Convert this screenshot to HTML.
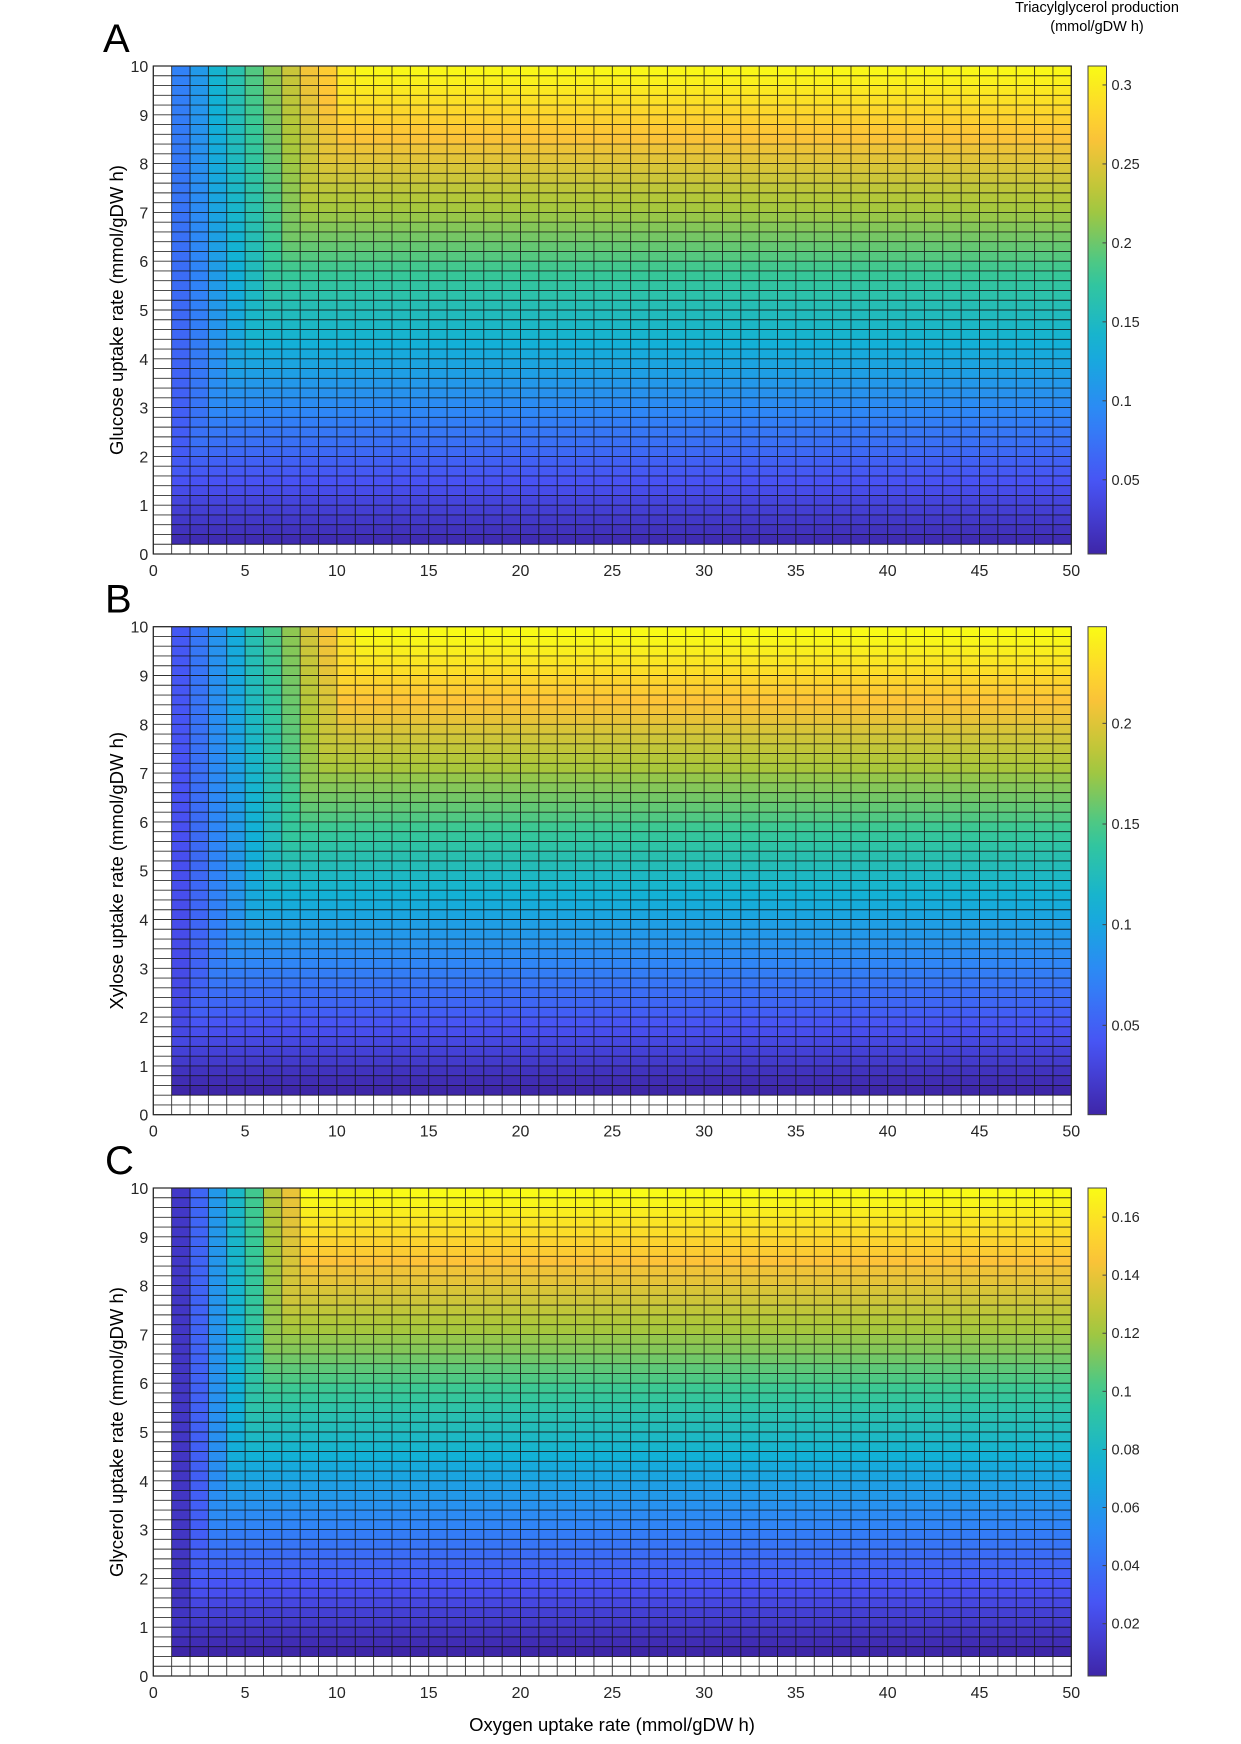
<!DOCTYPE html>
<html><head><meta charset="utf-8">
<style>
html,body{margin:0;padding:0;background:#fff;}
svg{display:block;font-family:"Liberation Sans","DejaVu Sans",sans-serif;}
</style></head>
<body>
<svg id="fig" width="1241" height="1744" viewBox="0 0 1241 1744"></svg>
<script>
// ---- data ----
const oxygenTicks = [0,5,10,15,20,25,30,35,40,45,50];
const uptakeTicks = [0,1,2,3,4,5,6,7,8,9,10];
// row values (glucose/xylose/glycerol rows of 0.2 each), null = no data
const rowA = [null,0.009,0.016,0.022,0.028,0.034,0.041,0.047,0.053,0.059,0.066,0.072,0.078,0.084,0.091,0.097,0.103,0.109,0.116,0.122,0.128,0.134,0.141,0.147,0.153,0.159,0.166,0.172,0.178,0.184,0.191,0.197,0.203,0.209,0.216,0.222,0.228,0.234,0.241,0.247,0.253,0.259,0.266,0.272,0.278,0.284,0.291,0.297,0.303,0.309];
const rowB = [null,null,0.006,0.011,0.016,0.022,0.027,0.032,0.037,0.042,0.048,0.053,0.058,0.063,0.068,0.074,0.079,0.084,0.089,0.094,0.100,0.105,0.110,0.115,0.120,0.126,0.131,0.136,0.141,0.146,0.152,0.157,0.162,0.167,0.172,0.178,0.183,0.188,0.193,0.198,0.204,0.209,0.214,0.219,0.224,0.230,0.235,0.240,0.245,0.250];
const rowC = [null,null,0.002,0.006,0.009,0.013,0.016,0.020,0.024,0.027,0.031,0.034,0.038,0.042,0.045,0.049,0.052,0.056,0.060,0.063,0.067,0.070,0.074,0.078,0.081,0.085,0.088,0.092,0.096,0.099,0.103,0.106,0.110,0.114,0.117,0.121,0.124,0.128,0.132,0.135,0.139,0.142,0.146,0.150,0.153,0.157,0.160,0.164,0.168,0.171];
// oxygen-limited caps per column (at top / at zero uptake)
const capTopA = [null,0.087,0.11,0.14,0.165,0.19,0.215,0.24,0.262,0.275,0.3];
const capBotA = [null,0.045,0.06,0.075,0.09,0.1,0.12,0.13,0.14,0.15,0.16];
const capTopB = [null,0.045,0.065,0.085,0.105,0.13,0.15,0.17,0.195,0.21,0.235];
const capBotB = [null,0.03,0.045,0.06,0.07,0.08,0.09,0.1,0.11,0.12,0.13];
const capTopC = [null,0.012,0.035,0.06,0.08,0.1,0.125,0.14];
const capBotC = [null,0.01,0.03,0.05,0.065,0.08,0.095,0.105];
const cbTicksA = [0.05,0.1,0.15,0.2,0.25,0.3];
const cbTicksB = [0.05,0.1,0.15,0.2];
const cbTicksC = [0.02,0.04,0.06,0.08,0.1,0.12,0.14,0.16];

const NS="http://www.w3.org/2000/svg";
const svg=document.getElementById('fig');
function mk(tag,attrs,parent){const e=document.createElementNS(NS,tag);for(const k in attrs)e.setAttribute(k,attrs[k]);(parent||svg).appendChild(e);return e;}
const stops=[[62,38,168],[72,82,244],[46,135,247],[18,177,214],[55,200,151],[171,199,57],[254,195,56],[249,251,21]];
function parula(t){t=Math.max(0,Math.min(1,t));const s=t*(stops.length-1);const i=Math.min(stops.length-2,Math.floor(s));const f=s-i;
 const c=stops[i].map((v,k)=>Math.round(v+(stops[i+1][k]-v)*f));return `rgb(${c[0]},${c[1]},${c[2]})`;}

const L=153.3,R=1071.3,W=R-L,H=488;
const panels=[
 {id:'a',letter:'A',top:66,rows:rowA,capT:capTopA,capB:capBotA,cmin:0.003,cmax:0.312,ticks:cbTicksA,ylab:'Glucose uptake rate (mmol/gDW h)'},
 {id:'b',letter:'B',top:626.7,rows:rowB,capT:capTopB,capB:capBotB,cmin:0.0056,cmax:0.248,ticks:cbTicksB,ylab:'Xylose uptake rate (mmol/gDW h)'},
 {id:'c',letter:'C',top:1188,rows:rowC,capT:capTopC,capB:capBotC,cmin:0.002,cmax:0.170,ticks:cbTicksC,ylab:'Glycerol uptake rate (mmol/gDW h)'}
];
panels.forEach(p=>{
 const T=p.top,B=T+H;
 const xs=v=>L+v/50*W, ys=v=>B-v/10*H;
 const g=mk('g',{});
 
 
 const lt=mk('text',{x:p.letter==='A'?103:105,y:T-14,'font-size':40,fill:'#000'},g);
 lt.textContent=p.letter;
 
 
 const cells=mk('g',{},g);
 
 
 for(let i=0;i<50;i++){
  const gv=(i+1)*0.2;
  for(let j=0;j<50;j++){
   let v=p.rows[i];
   if(v===null||j===0)continue;
   if(j<p.capT.length&&p.capT[j]!==null){
     const cap=p.capB[j]+(p.capT[j]-p.capB[j])*gv/10;
     v=Math.min(v,cap);
   }
   const r=mk('rect',{x:xs(j),y:ys(gv),width:xs(j+1)-xs(j)+0.3,height:ys(i*0.2)-ys(gv)+0.3,fill:parula((v-p.cmin)/(p.cmax-p.cmin))},cells);
   
   
  }
 }
 let d='';
 for(let j=0;j<=50;j++){const x=xs(j);d+=`M${x},${T}V${B}`;}
 for(let i=0;i<=50;i++){const y=ys(i*0.2);d+=`M${L},${y}H${R}`;}
 const grid=mk('path',{d:d,stroke:'#111','stroke-width':0.9,fill:'none','stroke-opacity':0.85},g);
 
 
 const ax=mk('rect',{x:L,y:T,width:W,height:H,fill:'none',stroke:'#262626','stroke-width':1.2},g);
 
 
 uptakeTicks.forEach(t=>{
  const tx=mk('text',{x:L-5,y:ys(t)+6,'font-size':16,fill:'#262626','text-anchor':'end'},g);
  tx.textContent=String(t);
  
  
 });
 oxygenTicks.forEach(t=>{
  const tx=mk('text',{x:xs(t),y:B+22,'font-size':16,fill:'#262626','text-anchor':'middle'},g);
  tx.textContent=String(t);
  
  
 });
 const yl=mk('text',{x:0,y:0,'font-size':18.5,fill:'#000','text-anchor':'middle',transform:`translate(123,${T+H/2}) rotate(-90)`},g);
 yl.textContent=p.ylab;
 
 
 // colorbar
 const cb=mk('g',{},g);
 
 
 const gid='grad'+p.id;
 const lg=mk('linearGradient',{id:gid,x1:0,y1:1,x2:0,y2:0},cb);
 for(let k=0;k<=20;k++){mk('stop',{offset:k/20,'stop-color':parula(k/20)},lg);}
 const cx=1088,cw=18.5;
 mk('rect',{x:cx,y:T,width:cw,height:H,fill:`url(#${gid})`,stroke:'#444','stroke-width':1},cb);
 const cy=v=>B-(v-p.cmin)/(p.cmax-p.cmin)*H;
 p.ticks.forEach(t=>{
  mk('line',{x1:cx+cw-4,x2:cx+cw,y1:cy(t),y2:cy(t),stroke:'#444','stroke-width':1},cb);
  const tx=mk('text',{x:cx+cw+5,y:cy(t)+5,'font-size':14.5,fill:'#262626'},cb);
  tx.textContent=String(t);
  
  
 });
});
const t1=mk('text',{x:1097,y:12,'font-size':14.5,fill:'#000','text-anchor':'middle'});
t1.textContent='Triacylglycerol production';


const t2=mk('text',{x:1097,y:31,'font-size':14.5,fill:'#000','text-anchor':'middle'});
t2.textContent='(mmol/gDW h)';


const xt=mk('text',{x:612,y:1731,'font-size':18.5,fill:'#000','text-anchor':'middle'});
xt.textContent='Oxygen uptake rate (mmol/gDW h)';


</script>
</body></html>
